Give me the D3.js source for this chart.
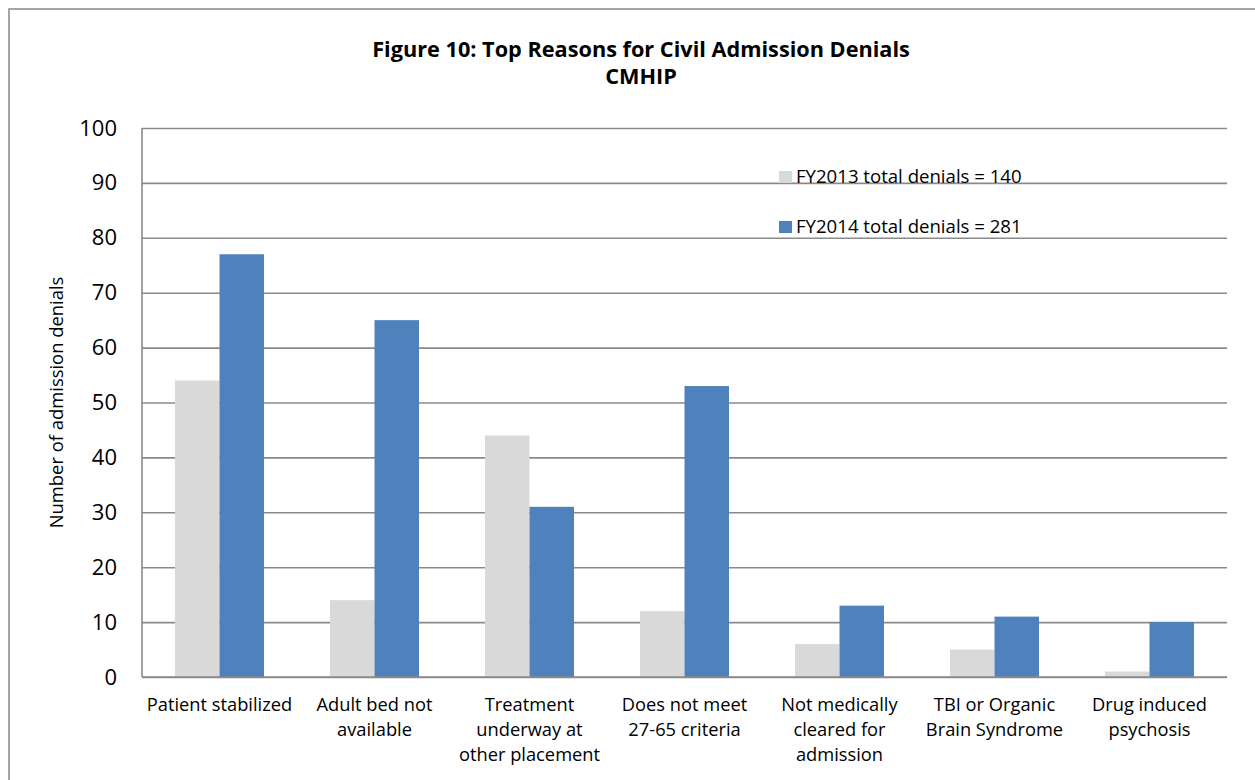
<!DOCTYPE html>
<html>
<head>
<meta charset="utf-8">
<script src="https://cdn.jsdelivr.net/npm/d3@7"></script>
<style>
  html, body { margin: 0; padding: 0; background: #fff; }
  svg { display: block; font-family: "Open Sans", Lato, sans-serif; }
</style>
</head>
<body>
<svg id="chart" width="1255" height="780"></svg>
<script>
// Denial reasons and counts per fiscal year
const categories = [
  ["Patient stabilized"],
  ["Adult bed not", "available"],
  ["Treatment", "underway at", "other placement"],
  ["Does not meet", "27-65 criteria"],
  ["Not medically", "cleared for", "admission"],
  ["TBI or Organic", "Brain Syndrome"],
  ["Drug induced", "psychosis"]
];
const fy2013 = [54, 14, 44, 12, 6, 5, 1];
const fy2014 = [77, 65, 31, 53, 13, 11, 10];
const seriesNames = ["FY2013 total denials = 140", "FY2014 total denials = 281"];
const yTicks = [0, 10, 20, 30, 40, 50, 60, 70, 80, 90, 100];
const titleLines = ["Figure 10: Top Reasons for Civil Admission Denials", "CMHIP"];
const yTitle = "Number of admission denials";

const colors = ["#d9d9d9", "#4f81bd"];
const svg = d3.select("#chart");

// Outer chart frame
svg.append("rect")
  .attr("x", 9).attr("y", 9)
  .attr("width", 1300).attr("height", 900)
  .attr("fill", "none").attr("stroke", "#868686").attr("stroke-width", 1.5);

const plot = { left: 142, right: 1227, top: 128, bottom: 677 };

const x0 = d3.scaleBand()
  .domain(d3.range(categories.length))
  .range([plot.left, plot.right])
  .paddingInner(0.4258).paddingOuter(0.2129);
const x1 = d3.scaleBand()
  .domain([0, 1])
  .range([0, x0.bandwidth()]);
const y = d3.scaleLinear().domain([0, 100]).range([plot.bottom, plot.top]);

// Horizontal gridlines with value labels
const yAxis = d3.axisLeft(y).tickValues(yTicks).tickSize(-(plot.right - plot.left)).tickPadding(25).tickFormat(d3.format("d"));
const gy = svg.append("g").attr("transform", `translate(${plot.left},0)`).call(yAxis);
gy.select(".domain").remove();
gy.selectAll(".tick line").attr("stroke", "#8a8a8a").attr("stroke-width", 1.6);
gy.selectAll(".tick text").attr("font-size", 22).attr("fill", "#000")
  .attr("font-family", "'Open Sans', sans-serif");

// Left axis line
svg.append("line")
  .attr("x1", plot.left).attr("x2", plot.left)
  .attr("y1", plot.top).attr("y2", plot.bottom)
  .attr("stroke", "#8a8a8a").attr("stroke-width", 1.6);

// Bars
const series = [fy2013, fy2014];
series.forEach((vals, si) => {
  svg.append("g").selectAll("rect")
    .data(vals)
    .join("rect")
    .attr("x", (d, i) => x0(i) + x1(si))
    .attr("y", d => y(d))
    .attr("width", x1.bandwidth())
    .attr("height", d => y(0) - y(d))
    .attr("fill", colors[si]);
});

// Baseline drawn over bars
svg.append("line")
  .attr("x1", plot.left).attr("x2", plot.right)
  .attr("y1", y(0)).attr("y2", y(0))
  .attr("stroke", "#8a8a8a").attr("stroke-width", 1.6);

// Category labels
const labels = svg.append("g").attr("font-size", 18.3).attr("fill", "#000").attr("text-anchor", "middle");
categories.forEach((lines, i) => {
  const t = labels.append("text")
    .attr("x", x0(i) + x0.bandwidth() / 2)
    .attr("y", 711);
  lines.forEach((ln, j) => {
    t.append("tspan").attr("x", x0(i) + x0.bandwidth() / 2).attr("dy", j === 0 ? 0 : 25).text(ln);
  });
});

// Axis title
svg.append("text")
  .attr("transform", `translate(63,${(plot.top + plot.bottom) / 2}) rotate(-90)`)
  .attr("text-anchor", "middle")
  .attr("font-size", 18.4)
  .text(yTitle);

// Title
const title = svg.append("text").attr("text-anchor", "middle").attr("font-weight", "bold").attr("font-size", 21.7);
titleLines.forEach((ln, j) => {
  title.append("tspan").attr("x", 641).attr("y", 57 + j * 27).text(ln);
});

// Legend
const legend = svg.append("g");
seriesNames.forEach((name, i) => {
  const ly = 171 + i * 50;
  legend.append("rect").attr("x", 779).attr("y", ly).attr("width", 13).attr("height", 12).attr("fill", colors[i]);
  legend.append("text").attr("x", 796).attr("y", ly + 12).attr("font-size", 18.6).text(name);
});
</script>
</body>
</html>
